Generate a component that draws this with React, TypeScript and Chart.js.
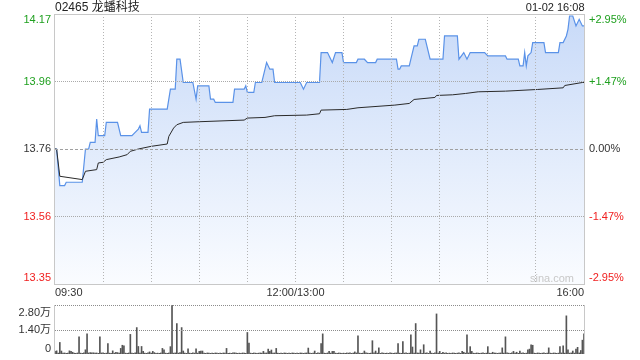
import React, { useEffect, useRef } from "react";
import { Chart, registerables } from "chart.js";
Chart.register(...registerables);

const FONT = "Arial, 'Liberation Sans', 'Noto Sans CJK SC', sans-serif";
const TITLE = "02465 龙蟠科技";
const DATE_LABEL = "01-02 16:08";
const WATERMARK = "sina.com";
const PREV_CLOSE = 13.76;
const PRICE_MIN = 13.354;
const PRICE_MAX = 14.166;
const PRICE_GRID = [13.557, 13.76, 13.963];
const PRICE_TICK_LABELS = ["13.35", "13.56", "13.76", "13.96", "14.17"];
const PCT_TICK_LABELS = ["-2.95%", "-1.47%", "0.00%", "+1.47%", "+2.95%"];
const TIME_TICKS = [0, 150, 330];
const TIME_TICK_LABELS = ["09:30", "12:00/13:00", "16:00"];
const VOL_MAX = 2.8;
const VOL_GRID = [1.4, 2.8];
const VOL_TICK_LABELS = ["0", "1.40万", "2.80万"];

// price line (minutes after 09:30, trading time)
const priceMinutes = [
  0, 1, 3, 6, 7, 17, 19, 21, 22, 25, 26, 27, 31, 32, 39, 41, 48, 50, 52, 53, 54, 58, 59, 70, 72, 75, 76, 78, 80,
  86, 88, 89, 96, 97, 99, 100, 111, 112, 118, 119, 120, 124, 125, 129, 131, 132, 134, 136, 137, 153, 155, 157, 165,
  166, 170, 173, 175, 179, 180, 188, 189, 193, 195, 200, 201, 213, 214, 215, 216, 221, 222, 224, 226, 227, 231, 234,
  242, 243, 251, 252, 255, 257, 259, 268, 270, 281, 282, 289, 290, 292, 293, 294, 295, 297, 298, 305, 306, 314, 315,
  317, 319, 320, 321, 323, 325, 327, 329, 330,
];
const priceValues = [
  13.76, 13.76, 13.65, 13.65, 13.66, 13.66, 13.76, 13.76, 13.78, 13.78, 13.85, 13.8, 13.8, 13.84, 13.84, 13.8, 13.8,
  13.81, 13.82, 13.83, 13.81, 13.81, 13.88, 13.88, 13.94, 13.94, 14.03, 14.03, 13.96,
  13.96, 13.91, 13.95, 13.95, 13.91, 13.91, 13.9, 13.9, 13.94, 13.94, 13.95, 13.93, 13.93, 13.96, 13.96, 14.0, 14.02,
  14.0, 14.0, 13.96, 13.96, 13.94, 13.96, 13.96,
  14.05, 14.05, 14.02, 14.05, 14.05, 14.02, 14.02, 14.03, 14.03, 14.02, 14.02, 14.03, 14.03, 14.0, 14.0, 14.01, 14.01,
  14.03, 14.07, 14.07, 14.09, 14.09, 14.03,
  14.03, 14.1, 14.1, 14.03, 14.05, 14.03, 14.05, 14.05, 14.04, 14.04, 14.03, 14.03, 14.01, 14.01, 14.05, 14.01, 14.04,
  14.05, 14.08, 14.08, 14.05, 14.05, 14.08,
  14.08, 14.1, 14.12, 14.16, 14.16, 14.13, 14.15, 14.13, 14.13,
];

// average price line
const avgMinutes = [
  0, 1, 3, 17, 19, 26, 27, 30, 32, 40, 45, 47, 52, 60, 70, 71, 74, 76, 80, 90, 118, 120, 131, 137, 157, 165, 166, 182,
  189, 212, 221, 224, 237, 238, 248, 256, 264, 281, 301, 317, 318, 329, 330,
];
const avgValues = [
  13.76, 13.76, 13.678, 13.668, 13.693, 13.698, 13.718, 13.72, 13.728, 13.736, 13.743, 13.753, 13.76, 13.768, 13.775,
  13.798, 13.823, 13.833, 13.84, 13.842, 13.847, 13.853, 13.855, 13.86, 13.862, 13.866, 13.877, 13.879, 13.884,
  13.892, 13.897, 13.909, 13.915, 13.921, 13.923, 13.927, 13.932, 13.934, 13.939, 13.944, 13.951, 13.96, 13.96,
];

// volume per minute, in 万 shares (minute 0 .. 330)
const volumes = [
  0.15, 0.18, 0.05, 0.66, 0.17, 0.05, 0.06, 0.04, 0.05, 0.18, 0.15, 0.1, 0.05, 0.04, 0.06, 0.98, 0.05, 0.04, 0.06, 0.24,
  1.15, 0.06, 0.08, 0.06, 0.07, 0.05, 0.06, 0.04, 0.98, 0.06,
  0.06, 0.04, 0.05, 0.59, 0.05, 0.04, 0.18, 0.05, 0.1, 0.08, 0.05, 0.32, 0.5, 0.46, 0.05, 0.04, 0.06, 1.12, 0.05, 0.04,
  0.06, 1.51, 0.43, 0.05, 0.43, 0.15, 0.05, 0.04, 0.06, 0.12,
  0.05, 0.15, 0.08, 0.04, 0.05, 0.04, 0.06, 0.32, 0.24, 0.05, 0.04, 0.06, 0.42, 2.8, 0.05, 0.06, 1.74, 0.05, 0.08, 1.51,
  0.17, 0.05, 0.04, 0.3, 0.05, 0.04, 0.06, 0.05, 0.3, 0.05,
  0.15, 0.17, 0.17, 0.05, 0.04, 0.06, 0.05, 0.04, 0.05, 0.04, 0.06, 0.05, 0.04, 0.05, 0.04, 0.06, 0.05, 0.32, 0.04, 0.05,
  0.04, 0.06, 0.07, 0.05, 0.04, 0.05, 0.04, 0.06, 0.05, 0.04,
  1.23, 0.62, 0.05, 0.04, 0.06, 0.05, 0.04, 0.05, 0.06, 0.05, 0.15, 0.05, 0.06, 0.28, 0.15, 0.23, 0.05, 0.06, 0.32, 0.05,
  0.04, 0.05, 0.04, 0.06, 0.05, 0.04, 0.05, 0.04, 0.06, 0.05,
  0.04, 0.05, 0.04, 0.06, 0.05, 0.04, 0.05, 0.06, 0.34, 0.05, 0.04, 0.05, 0.17, 0.04, 0.06, 0.05, 0.59, 1.15, 0.05, 0.04,
  0.06, 0.15, 0.05, 0.15, 0.15, 0.05, 0.04, 0.06, 0.05, 0.04,
  0.05, 0.04, 0.06, 0.05, 0.07, 0.04, 0.05, 0.12, 0.06, 1.04, 0.05, 0.04, 0.05, 0.17, 0.06, 0.05, 0.04, 0.05, 0.76, 0.06,
  0.17, 0.05, 0.35, 0.04, 0.06, 0.05, 0.04, 0.05, 0.04, 0.06,
  0.05, 0.04, 0.05, 0.06, 0.59, 0.05, 0.04, 0.71, 0.05, 0.06, 0.04, 0.05, 1.1, 0.4, 0.05, 1.74, 0.06, 0.05, 0.24, 0.04,
  0.53, 0.05, 0.06, 0.04, 0.17, 0.05, 0.04, 0.06, 2.29, 0.05,
  0.15, 0.04, 0.1, 0.05, 0.06, 0.04, 0.05, 0.04, 0.06, 0.05, 0.04, 0.05, 0.06, 0.04, 0.15, 0.1, 0.05, 1.1, 0.06, 0.42,
  0.15, 0.05, 0.04, 0.06, 0.05, 0.04, 0.05, 0.06, 0.04, 0.05,
  0.42, 0.05, 0.04, 0.1, 0.06, 0.05, 0.04, 0.05, 0.06, 0.35, 0.05, 0.98, 0.07, 0.05, 0.04, 0.06, 0.15, 0.05, 0.1, 0.04,
  0.17, 0.05, 0.06, 0.04, 0.05, 0.24, 0.28, 0.53, 0.5, 0.05,
  0.04, 0.06, 0.05, 0.04, 0.05, 0.06, 0.04, 0.05, 0.35, 0.05, 0.04, 0.06, 0.05, 0.04, 0.05, 0.42, 0.06, 0.46, 0.05, 2.18,
  0.24, 0.05, 0.06, 0.17, 0.05, 0.28, 0.38, 0.06, 0.2, 0.79, 1.15,
];

const GREEN = "#1fa01f";
const RED = "#f02020";
const DARK = "#333333";
const GRID = "#b4b4b4";
const HGRID = "#aaaaaa";
const FRAME = "#c8c8c8";
const CLEAR = "rgba(0,0,0,0)";

const pct = (p: number) => (p / PREV_CLOSE - 1) * 100;
const levelColor = (i: number) => (i < 2 ? RED : i === 2 ? DARK : GREEN);
const noPad = (s: any) => {
  s.paddingTop = 0;
  s.paddingBottom = 0;
};

export default function App() {
  const mainRef = useRef<HTMLCanvasElement | null>(null);
  const volRef = useRef<HTMLCanvasElement | null>(null);

  useEffect(() => {
    Chart.defaults.font.family = FONT;
    const plotH = 270;
    const pxP = (PRICE_MAX - PRICE_MIN) / plotH;
    const priceTicks = [PRICE_MIN + 6.5 * pxP, ...PRICE_GRID, PRICE_MAX - 6 * pxP];
    const pctMin = pct(PRICE_MIN);
    const pctMax = pct(PRICE_MAX);
    const pctTicks = priceTicks.map(pct);

    const mainFrame = {
      id: "mainFrame",
      afterDraw(chart: any) {
        const { ctx, chartArea: a } = chart;
        ctx.save();
        ctx.strokeStyle = FRAME;
        ctx.lineWidth = 1;
        ctx.strokeRect(a.left - 0.5, a.top + 0.5, a.right - a.left + 1, a.bottom - a.top);
        ctx.font = "12px " + FONT;
        ctx.fillStyle = "#222";
        ctx.textBaseline = "middle";
        ctx.textAlign = "left";
        ctx.fillText(TITLE, a.left, 8);
        ctx.font = "11px " + FONT;
        ctx.textAlign = "right";
        ctx.fillText(DATE_LABEL, a.right + 0.5, 8);
        ctx.fillStyle = "#c8c8c8";
        ctx.textBaseline = "alphabetic";
        ctx.fillText(WATERMARK, a.right - 10, a.bottom - 2);
        ctx.restore();
      },
    };

    const main = new Chart(mainRef.current as HTMLCanvasElement, {
      type: "line",
      data: {
        datasets: [
          {
            label: "avg",
            data: avgMinutes.map((m, i) => ({ x: m, y: avgValues[i] })),
            borderColor: "#2a2a2a",
            borderWidth: 1,
            pointRadius: 0,
            fill: false,
            tension: 0,
          },
          {
            label: "price",
            data: priceMinutes.map((m, i) => ({ x: m, y: priceValues[i] })),
            borderColor: "#5a92e8",
            borderWidth: 1.2,
            pointRadius: 0,
            tension: 0,
            fill: "start",
            backgroundColor: (c: any) => {
              const chart = c.chart;
              const a = chart.chartArea;
              if (!a) return "rgba(210,225,250,1)";
              const g = chart.ctx.createLinearGradient(0, a.top, 0, a.bottom);
              g.addColorStop(0, "rgb(200,218,248)");
              g.addColorStop(1, "rgb(250,252,255)");
              return g;
            },
          },
        ],
      },
      options: {
        animation: false,
        responsive: false,
        events: [],
        layout: { padding: { top: 14, left: 0, right: 0, bottom: 0 } },
        plugins: { legend: { display: false }, tooltip: { enabled: false } },
        scales: {
          x: {
            type: "linear",
            min: 0,
            max: 330,
            offset: false,
            afterBuildTicks: (s: any) => {
              const t = [];
              for (let m = 0; m <= 330; m += 30) t.push({ value: m });
              s.ticks = t;
            },
            afterFit: (s: any) => {
              s.height = 16;
            },
            ticks: {
              autoSkip: false,
              maxRotation: 0,
              align: "inner",
              padding: 2,
              color: DARK,
              font: { size: 11 },
              callback: (v: any) => {
                const k = TIME_TICKS.indexOf(v);
                return k >= 0 ? TIME_TICK_LABELS[k] : "";
              },
            },
            grid: {
              z: 1,
              drawTicks: false,
              color: (c: any) => (c.index === 0 || c.index === 11 ? CLEAR : GRID),
            },
            border: { display: false, dash: [1, 2] },
          },
          y: {
            type: "linear",
            position: "left",
            min: PRICE_MIN,
            max: PRICE_MAX,
            afterBuildTicks: (s: any) => {
              s.ticks = priceTicks.map((v) => ({ value: v }));
            },
            afterFit: (s: any) => {
              s.width = 55;
              noPad(s);
            },
            ticks: {
              autoSkip: false,
              padding: 4,
              font: { size: 11 },
              color: (c: any) => levelColor(c.index),
              callback: (_v: any, i: number) => PRICE_TICK_LABELS[i],
            },
            grid: {
              z: 1,
              drawTicks: false,
              color: (c: any) => (c.index === 0 || c.index === 4 ? CLEAR : c.index === 2 ? "#a0a0a0" : HGRID),
            },
            border: { display: false, dash: (c: any) => (c.index === 2 ? [3, 2] : [1, 1]) },
          },
          yr: {
            type: "linear",
            position: "right",
            min: pctMin,
            max: pctMax,
            afterBuildTicks: (s: any) => {
              s.ticks = pctTicks.map((v) => ({ value: v }));
            },
            afterFit: (s: any) => {
              s.width = 56;
              noPad(s);
            },
            ticks: {
              autoSkip: false,
              padding: 5,
              font: { size: 11 },
              color: (c: any) => levelColor(c.index),
              callback: (_v: any, i: number) => PCT_TICK_LABELS[i],
            },
            grid: { drawOnChartArea: false, drawTicks: false },
            border: { display: false },
          },
        },
      },
      plugins: [mainFrame],
    } as any);

    const pxV = VOL_MAX / 49;
    const volTicks = [5 * pxV, VOL_MAX / 2, VOL_MAX - 7.5 * pxV];

    const volFrame = {
      id: "volFrame",
      afterDraw(chart: any) {
        const { ctx, chartArea: a } = chart;
        const ys = chart.scales.y;
        ctx.save();
        ctx.strokeStyle = FRAME;
        ctx.lineWidth = 1;
        ctx.beginPath();
        ctx.moveTo(a.left - 0.5, a.top);
        ctx.lineTo(a.left - 0.5, a.bottom);
        ctx.moveTo(a.right + 0.5, a.top);
        ctx.lineTo(a.right + 0.5, a.bottom);
        ctx.stroke();
        ctx.fillStyle = "#8c8c8c";
        for (const v of VOL_GRID) {
          const y = Math.round(ys.getPixelForValue(v));
          for (let x = Math.round(a.left); x < a.right; x += 2) ctx.fillRect(x, y, 1, 1);
        }
        ctx.restore();
      },
    };

    const vol = new Chart(volRef.current as HTMLCanvasElement, {
      type: "bar",
      data: {
        datasets: [
          {
            label: "vol",
            data: volumes.map((v, i) => ({ x: i, y: v })),
            backgroundColor: "#555555",
            borderWidth: 0,
            barThickness: 1,
          },
        ],
      },
      options: {
        animation: false,
        responsive: false,
        events: [],
        layout: { padding: { top: 5, left: 0, right: 56, bottom: 6 } },
        plugins: { legend: { display: false }, tooltip: { enabled: false } },
        scales: {
          x: {
            type: "linear",
            min: 0,
            max: 330,
            offset: false,
            display: false,
          },
          y: {
            type: "linear",
            position: "left",
            min: 0,
            max: VOL_MAX,
            afterBuildTicks: (s: any) => {
              s.ticks = volTicks.map((v) => ({ value: v }));
            },
            afterFit: (s: any) => {
              s.width = 55;
              noPad(s);
            },
            ticks: {
              autoSkip: false,
              padding: 4,
              font: { size: 11 },
              color: DARK,
              callback: (_v: any, i: number) => VOL_TICK_LABELS[i],
            },
            grid: { display: false, drawTicks: false },
            border: { display: false },
          },
        },
      },
      plugins: [volFrame],
    } as any);

    return () => {
      main.destroy();
      vol.destroy();
    };
  }, []);

  return (
    <div style={{ position: "absolute", left: 0, top: 0, width: 640, height: 360, background: "#fff" }}>
      <canvas ref={mainRef} width={640} height={300} style={{ position: "absolute", left: 0, top: 0, width: 640, height: 300 }} />
      <canvas ref={volRef} width={640} height={60} style={{ position: "absolute", left: 0, top: 300, width: 640, height: 60 }} />
    </div>
  );
}
